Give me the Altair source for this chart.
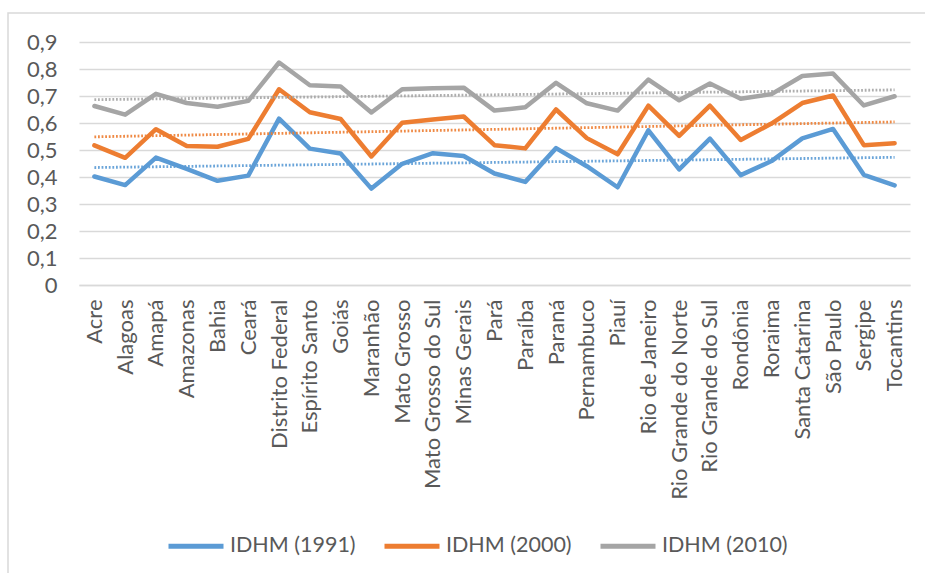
import altair as alt
import pandas as pd
import numpy as np

estados = ["Acre", "Alagoas", "Amapá", "Amazonas", "Bahia", "Ceará", "Distrito Federal",
           "Espírito Santo", "Goiás", "Maranhão", "Mato Grosso", "Mato Grosso do Sul",
           "Minas Gerais", "Pará", "Paraíba", "Paraná", "Pernambuco", "Piauí",
           "Rio de Janeiro", "Rio Grande do Norte", "Rio Grande do Sul", "Rondônia",
           "Roraima", "Santa Catarina", "São Paulo", "Sergipe", "Tocantins"]

idhm_1991 = [0.402, 0.370, 0.472, 0.430, 0.386, 0.405, 0.616, 0.505, 0.487, 0.357, 0.449,
             0.488, 0.478, 0.413, 0.382, 0.507, 0.440, 0.362, 0.573, 0.428, 0.542, 0.407,
             0.459, 0.543, 0.578, 0.408, 0.369]
idhm_2000 = [0.517, 0.471, 0.577, 0.515, 0.512, 0.541, 0.725, 0.640, 0.615, 0.476, 0.601,
             0.613, 0.624, 0.518, 0.506, 0.650, 0.544, 0.484, 0.664, 0.552, 0.664, 0.537,
             0.598, 0.674, 0.702, 0.518, 0.525]
idhm_2010 = [0.663, 0.631, 0.708, 0.674, 0.660, 0.682, 0.824, 0.740, 0.735, 0.639, 0.725,
             0.729, 0.731, 0.646, 0.658, 0.749, 0.673, 0.646, 0.761, 0.684, 0.746, 0.690,
             0.707, 0.774, 0.783, 0.665, 0.699]

y_ticks = [0.0, 0.1, 0.2, 0.3, 0.4, 0.5, 0.6, 0.7, 0.8, 0.9]

series = ["IDHM (1991)", "IDHM (2000)", "IDHM (2010)"]
cores = ["#5B9BD5", "#ED7D31", "#A5A5A5"]

rows, trend_rows = [], []
idx = np.arange(len(estados))
for nome, vals in zip(series, [idhm_1991, idhm_2000, idhm_2010]):
    a, b = np.polyfit(idx, np.array(vals), 1)
    for i, (e, v) in enumerate(zip(estados, vals)):
        rows.append({"estado": e, "serie": nome, "valor": v})
        trend_rows.append({"estado": e, "serie": nome, "valor": float(a * i + b)})
df = pd.DataFrame(rows)
df_trend = pd.DataFrame(trend_rows)

FONT = "Lato"
TXT = "#595959"
GRID = "#D9D9D9"

x_enc = alt.X("estado:N", sort=estados, scale=alt.Scale(padding=0.5),
              axis=alt.Axis(title=None, labelAngle=-90, labelFontSize=22, labelColor=TXT,
                            labelFont=FONT, ticks=False, domain=True, domainColor=GRID,
                            domainWidth=1.5, labelPadding=14, grid=False, labelLimit=400,
                            labelOverlap=False))
y_enc = alt.Y("valor:Q", scale=alt.Scale(domain=[0, 0.9], nice=False, zero=True),
              axis=alt.Axis(title=None, values=y_ticks, labelOverlap=False,
                            labelExpr="datum.value == 0 ? '0' : replace(format(datum.value, '.1f'), '.', ',')",
                            labelFontSize=22, labelColor=TXT, labelFont=FONT, ticks=False,
                            domain=False, grid=True, gridColor=GRID, gridWidth=1.5,
                            labelPadding=22))
color_scale = alt.Scale(domain=series, range=cores)

linhas = alt.Chart(df).mark_line(strokeWidth=4.5, strokeJoin="round", strokeCap="round").encode(
    x=x_enc, y=y_enc,
    color=alt.Color("serie:N", scale=color_scale,
                    legend=alt.Legend(title=None, orient="none", direction="horizontal",
                                      legendX=87, legendY=474, symbolType="stroke",
                                      symbolSize=3025, symbolStrokeWidth=5,
                                      labelFontSize=21.5, labelColor=TXT, labelFont=FONT,
                                      labelOffset=4, columnPadding=18, labelLimit=300)),
)

tendencia = alt.Chart(df_trend).mark_line(strokeWidth=2.8, strokeDash=[1.8, 1.8], opacity=0.9).encode(
    x=x_enc, y=y_enc,
    color=alt.Color("serie:N", scale=color_scale, legend=None),
)

borda = alt.Chart(pd.DataFrame({"k": [0]})).mark_rect(
    fill=None, stroke=GRID, strokeWidth=1.5
).encode(x=alt.value(-71), x2=alt.value(860), y=alt.value(-29), y2=alt.value(545))

chart = alt.layer(borda, linhas, tendencia).properties(
    width=831, height=243,
    autosize=alt.AutoSizeParams(type="none"),
    padding={"left": 79, "top": 42, "right": 15, "bottom": 288},
    background="white",
).configure_view(stroke=None)

chart.save("out.html", embed_options={"renderer": "svg", "actions": False})
